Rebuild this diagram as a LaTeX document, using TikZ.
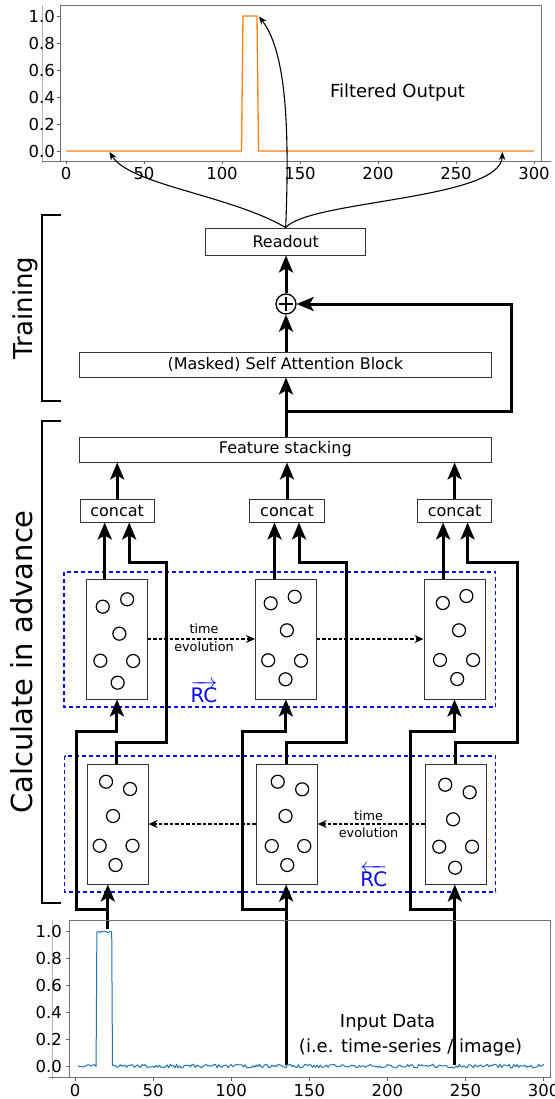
\documentclass[tikz,border=0pt]{standalone}
\usepackage{fontspec}
\setmainfont{DejaVu Sans}
\usetikzlibrary{arrows.meta,calc}
\definecolor{mplblue}{HTML}{1F77B4}
\definecolor{mplorange}{HTML}{FF7F0E}
\definecolor{rcblue}{RGB}{10,10,235}
\newcommand{\fsz}[1]{\fontsize{#1}{#1}\selectfont}
\tikzset{
  box/.style={draw=black!80, line width=0.9pt, inner sep=0pt, minimum height=25pt, font=\fsz{16}},
  resbox/.style={draw=black!80, line width=0.9pt, inner sep=0pt, minimum width=61pt, minimum height=120pt},
  neuron/.style={draw=black, line width=1.2pt},
  thk/.style={line width=3pt, -{Stealth[length=17pt,width=14pt,inset=4pt]}},
  thinarrow/.style={line width=1.1pt, -{Stealth[length=8pt,width=6.5pt]}},
  tevo/.style={line width=1.4pt, dash pattern=on 3.5pt off 2pt, -{Stealth[length=9pt,width=8pt]}},
  rcframe/.style={draw=rcblue, line width=1.3pt, dash pattern=on 4pt off 3pt},
  brk/.style={line width=1.6pt},
  frame/.style={draw=black!55, line width=0.8pt},
  ghost/.style={draw=black!30, line width=0.8pt},
  tick/.style={draw=black!60, line width=0.8pt},
  ticklab/.style={font=\fsz{16.5}, inner sep=0pt},
  small/.style={font=\fsz{12.8}, inner sep=0pt},
}
\begin{document}
\begin{tikzpicture}[x=1pt,y=-1pt]
\useasboundingbox (0,0) rectangle (554,1099);
\fill[white] (0,0) rectangle (554,1099);

% ================= top plot =================
\draw[ghost] (42.7,5) -- (42.7,163);
\draw[frame] (42,161) -- (551,161);
\draw[frame] (60.5,5) rectangle (541,161);
\foreach \v/\l in {0/0.0,0.2/0.2,0.4/0.4,0.6/0.6,0.8/0.8,1/1.0}{
  \draw[tick] (57,{151-135*\v}) -- (60.5,{151-135*\v});
  \node[ticklab, anchor=east] at (55,{151-135*\v}) {\l};
}
\foreach \u in {0,50,100,150,200,250,300}{
  \draw[tick] ({66+1.56*\u},161) -- ({66+1.56*\u},164.5);
  \node[ticklab] at ({66+1.56*\u},173.5) {\u};
}
\draw[mplorange, line width=1.3pt] (66,151) -- (241.5,151) -- (243,16) -- (257,16) -- (258.5,151) -- (534,151);
\node[font=\fsz{18}, inner sep=0pt] (fout) at (397.5,93) {Filtered Output};
\coordinate (t1) at (109.5,152);
\coordinate (t2) at (259,16.5);
\coordinate (t3) at (502.5,152);

% ================= training part =================
\node[box, minimum width=160pt, minimum height=27pt] (readout) at (285.7,241.5) {Readout};
\node[circle, draw=black, line width=1.3pt, minimum size=20pt, inner sep=0pt] (plus) at (286,304) {};
\draw[line width=1.3pt] ($(plus.center)+(-7,0)$) -- ($(plus.center)+(7,0)$);
\draw[line width=1.3pt] ($(plus.center)+(0,-7)$) -- ($(plus.center)+(0,7)$);
\node[box, minimum width=412.5pt] (sa) at (285.3,364.5) {(Masked) Self Attention Block};
\node[box, minimum width=412.5pt] (fs) at (285.3,449.5) {Feature stacking};

\draw[thinarrow] (readout.north) .. controls (230,195) and (130,185) .. (t1);
\draw[thinarrow] (readout.north) .. controls (290,120) and (285,50) .. (t2);
\draw[thinarrow] (readout.north) .. controls (310,200) and (500,200) .. (t3);

\draw[thk] (plus.north) -- (plus.north |- readout.south);
\draw[thk] (sa.north -| plus) -- (plus.south);
\coordinate (split) at (286,411);
\coordinate (fbc) at (511,411);
\draw[thk] (fs.north -| plus) -- (sa.south -| plus);
\draw[thk] (split) -- (fbc) |- (plus.east);

% brackets and side labels
\draw[brk] (61,215) -- (42,215) -- (42,401) -- (61,401);
\node[font=\fsz{26}, rotate=90, inner sep=0pt] (trainlab) at (25,308) {Training};
\draw[brk] (61,421) -- (42,421) -- (42,903) -- (61,903);
\node[font=\fsz{29}, rotate=90, inner sep=0pt] (calclab) at (21.7,662) {Calculate in advance};

% ================= concat =================
\node[box, minimum width=74.4pt, minimum height=23pt] (c1) at (117.2,510.5) {concat};
\node[box, minimum width=74.4pt, minimum height=23pt] (c2) at (287,510.5) {concat};
\node[box, minimum width=74.4pt, minimum height=23pt] (c3) at (454.6,510.5) {concat};
\foreach \c in {c1,c2,c3}{
  \draw[thk] (\c.north) -- (\c.north |- fs.south);
}

% ================= reservoirs =================
\draw[rcframe] (64,572) rectangle (495.8,707);
\draw[rcframe] (64.7,756) rectangle (495.8,892);

\node[resbox] (u1) at (116.95,639) {};
\node[resbox] (u2) at (285.9,639) {};
\node[resbox] (u3) at (454.5,639) {};
\node[resbox] (l1) at (117.65,824) {};
\node[resbox] (l2) at (286.75,824) {};
\node[resbox] (l3) at (455.65,824) {};

\foreach \dx/\dy in {-14.2/-32.3,10.2/-39.7,2.4/-5.3,-16.6/21.7,16.2/22,0.7/43.7}
  \draw[neuron] ($(u1)+(\dx,\dy)$) circle[radius=6.5pt];
\foreach \dx/\dy in {-15.2/-35.7,8.8/-42.3,1/-8.7,-17.7/21.3,15.1/21.7,-0.4/40.3}
  \draw[neuron] ($(u2)+(\dx,\dy)$) circle[radius=6.5pt];
\foreach \dx/\dy in {-11.7/-36,11.9/-43,4.5/-8.7,-14.5/21,18.6/21,2.7/40}
  \draw[neuron] ($(u3)+(\dx,\dy)$) circle[radius=6.5pt];
\foreach \dx/\dy in {-11.6/-42.3,12.4/-35,-4.6/-8,-18/21.7,14.9/21.7,-2.1/41}
  \draw[neuron] ($(l1)+(\dx,\dy)$) circle[radius=6.5pt];
\foreach \dx/\dy in {-9/-42.3,15.4/-34.7,-1.2/-8,-15/22,17.5/22,0.5/41}
  \draw[neuron] ($(l2)+(\dx,\dy)$) circle[radius=6.5pt];
\foreach \dx/\dy in {-10.4/-39.3,14/-31.7,-2.6/-4.7,-16.4/22.7,16.4/22.7,-0.5/43.7}
  \draw[neuron] ($(l3)+(\dx,\dy)$) circle[radius=6.5pt];

% time evolution
\draw[tevo] (u1.east) -- (u2.west);
\draw[tevo] (u2.east) -- (u3.west);
\draw[tevo] (l3.west) -- (l2.east);
\draw[tevo] (l2.west) -- (l1.east);
\node[small] (tu1) at (204,629) {time};
\node[small] (tu2) at (204,647) {evolution};
\node[small] (tl1) at (368.6,816) {time};
\node[small] (tl2) at (368.6,833) {evolution};
\node[font=\fsz{20}, text=rcblue, inner sep=0pt] (rcf) at (204,692) {$\overrightarrow{\mbox{RC}}$};
\node[font=\fsz{20}, text=rcblue, inner sep=0pt] (rcb) at (373.9,876) {$\overleftarrow{\mbox{RC}}$};

% ================= wiring =================
% upper reservoir -> concat left input
\coordinate (j1) at ($(c1.south)+(-12.5,0)$);
\coordinate (j2) at ($(c2.south)+(-12.5,0)$);
\coordinate (j3) at ($(c3.south)+(-11.5,0)$);
\draw[thk] (j1 |- u1.north) -- (j1);
\draw[thk] (j2 |- u2.north) -- (j2);
\draw[thk] (j3 |- u3.north) -- (j3);
% lower reservoir -> concat right input
\coordinate (r1b) at (166,742); \coordinate (r1t) at (166,562);
\coordinate (r2b) at (346,742); \coordinate (r2t) at (346,562);
\coordinate (r3b) at (517,742); \coordinate (r3t) at (517,562);
\coordinate (k1) at ($(c1.south)+(12,0)$);
\coordinate (k2) at ($(c2.south)+(12,0)$);
\coordinate (k3) at ($(c3.south)+(13,0)$);
\coordinate (o1) at ($(l1.north)+(-1,0)$);
\draw[thk] (o1) -- (o1 |- r1b) -- (r1b) -- (r1t) -- (r1t -| k1) -- (k1);
\draw[thk] (l2.north) -- (l2.north |- r2b) -- (r2b) -- (r2t) -- (r2t -| k2) -- (k2);
\draw[thk] (l3.north) -- (l3.north |- r3b) -- (r3b) -- (r3t) -- (r3t -| k3) -- (k3);

% inputs
\coordinate (in1) at (107.8,929);
\coordinate (in2) at (286.2,1065);
\coordinate (in3) at (454.8,1065);
\coordinate (b1) at (76,909);   \coordinate (a1) at (76,731);
\coordinate (b2) at (242,909);  \coordinate (a2) at (242,731);
\coordinate (b3) at (410.6,909);\coordinate (a3) at (410.6,731);
\draw[thk] (in1) -- (in1 |- l1.south);
\draw[thk] (in2) -- (in2 |- l2.south);
\draw[thk] (in3) -- (in3 |- l3.south);
\draw[thk] (in1 |- b1) -- (b1) -- (a1) -- (a1 -| u1) -- (u1.south);
\draw[thk] (in2 |- b2) -- (b2) -- (a2) -- (a2 -| u2) -- (u2.south);
\draw[thk] (in3 |- b3) -- (b3) -- (a3) -- (a3 -| u3) -- (u3.south);

% ================= bottom plot =================
\draw[ghost] (52,920) -- (52,1079);
\draw[frame] (49,1077) -- (550,1077);
\draw[frame] (69.5,920) rectangle (550,1077);
\foreach \v/\l in {0/0.0,0.2/0.2,0.4/0.4,0.6/0.6,0.8/0.8,1/1.0}{
  \draw[tick] (66,{1066-135*\v}) -- (69.5,{1066-135*\v});
  \node[ticklab, anchor=east] at (62,{1066-135*\v}) {\l};
}
\foreach \u in {0,50,100,150,200,250,300}{
  \draw[tick] ({75+1.562*\u},1077) -- ({75+1.562*\u},1080.5);
  \node[ticklab] at ({75+1.562*\u},1090) {\u};
}
\pgfmathsetseed{11}
\draw[mplblue, line width=1pt, line join=round]
  plot[domain=2:13.5, samples=12] ({75+1.562*\x},{1066-135*0.012*rand})
  -- plot[domain=14:23.5, samples=10] ({75+1.562*\x},{1066-135*(1-0.012*abs(rand))})
  -- plot[domain=24:300, samples=277] ({75+1.562*\x},{1066-135*0.014*rand});
\node[font=\fsz{18}, inner sep=0pt] (inlab1) at (387.6,1023) {Input Data};
\node[font=\fsz{18}, inner sep=0pt] (inlab2) at (410.6,1048) {(i.e. time-series / image)};
\end{tikzpicture}
\end{document}
